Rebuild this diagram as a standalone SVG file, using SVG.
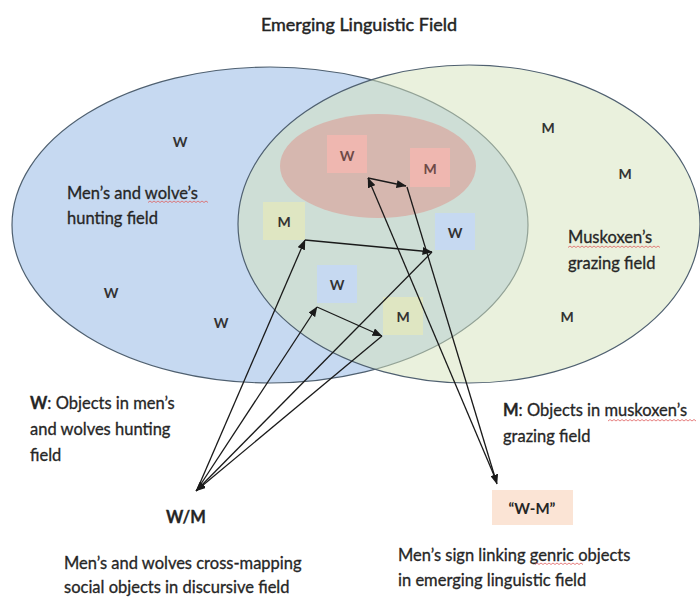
<svg xmlns="http://www.w3.org/2000/svg" width="700" height="597" viewBox="0 0 700 597">
<style>
text{font-family:Lato,"Liberation Sans",sans-serif;fill:#262626}
.t{font-size:16.5px;stroke:#262626;stroke-width:0.3}
.title{font-size:18px;stroke:#1e1e1e;stroke-width:0.45}
.lt{font-size:14px;font-weight:bold;text-anchor:middle;dominant-baseline:central;fill:#333}
.pk{fill:#6e4a47}
.b{font-weight:bold}
.field{stroke:#4f6070;stroke-width:1.2}
.sq{fill:none;stroke:#e06060;stroke-width:0.8}
.con{stroke:#1a1a1a;stroke-width:1.3;fill:none;marker-end:url(#ah)}
</style>
<defs>
<marker id="ah" viewBox="0 0 10 8" refX="9.5" refY="4" markerWidth="10" markerHeight="8" markerUnits="userSpaceOnUse" orient="auto">
<path d="M0 0 L10 4 L0 8 z" fill="#1a1a1a"/>
</marker>
</defs>
<rect width="700" height="597" fill="#ffffff"/>
<text x="359" y="31" class="title" text-anchor="middle">Emerging Linguistic Field</text>

<g id="hunting-field">
<ellipse class="field" cx="270" cy="225" rx="258" ry="158" fill="#c6d9f1"/>
</g>
<g id="grazing-field">
<ellipse class="field" cx="469" cy="224" rx="231" ry="159" fill="#d6e3bc" fill-opacity="0.5"/>
</g>
<g id="linguistic-field">
<ellipse cx="378" cy="166" rx="98" ry="52" fill="#dc9c95" fill-opacity="0.6"/>
</g>

<g id="hunting-label">
<text x="67" y="199" class="t">Men’s and wolve’s</text>
<text x="67" y="224" class="t">hunting field</text>
<path class="sq" d="M148 202.5 l2 -1.5 l2 1.5 l2 -1.5 l2 1.5 l2 -1.5 l2 1.5 l2 -1.5 l2 1.5 l2 -1.5 l2 1.5 l2 -1.5 l2 1.5 l2 -1.5 l2 1.5 l2 -1.5 l2 1.5 l2 -1.5 l2 1.5 l2 -1.5 l2 1.5 l2 -1.5 l2 1.5 l2 -1.5 l2 1.5 l2 -1.5 l2 1.5 l2 -1.5 l2 1.5 l2 -1.5 l2 1.5"/>
</g>
<g id="grazing-label">
<text x="568" y="243" class="t">Muskoxen’s</text>
<text x="568" y="269" class="t">grazing field</text>
<path class="sq" d="M568 247.5 l2 -1.5 l2 1.5 l2 -1.5 l2 1.5 l2 -1.5 l2 1.5 l2 -1.5 l2 1.5 l2 -1.5 l2 1.5 l2 -1.5 l2 1.5 l2 -1.5 l2 1.5 l2 -1.5 l2 1.5 l2 -1.5 l2 1.5 l2 -1.5 l2 1.5 l2 -1.5 l2 1.5 l2 -1.5 l2 1.5 l2 -1.5 l2 1.5 l2 -1.5 l2 1.5 l2 -1.5 l2 1.5 l2 -1.5 l2 1.5 l2 -1.5 l2 1.5 l2 -1.5 l2 1.5 l2 -1.5 l2 1.5 l2 -1.5 l2 1.5 l2 -1.5 l2 1.5 l2 -1.5 l2 1.5 l2 -1.5 l2 1.5"/>
</g>

<g id="w-plain-1"><text x="180" y="141" class="lt">W</text></g>
<g id="w-plain-2"><text x="111" y="292" class="lt">W</text></g>
<g id="w-plain-3"><text x="221" y="322" class="lt">W</text></g>
<g id="m-plain-1"><text x="548" y="127" class="lt">M</text></g>
<g id="m-plain-2"><text x="625" y="173" class="lt">M</text></g>
<g id="m-plain-3"><text x="567" y="316" class="lt">M</text></g>

<g id="w-pink"><rect x="327" y="135" width="40" height="38" fill="#efb7b0"/><text x="347" y="155" class="lt pk">W</text></g>
<g id="m-pink"><rect x="410" y="148" width="40" height="39" fill="#efb7b0"/><text x="430" y="168" class="lt pk">M</text></g>
<g id="m-green-1"><rect x="263" y="202" width="42" height="38" fill="#dfe6c2"/><text x="284" y="221" class="lt">M</text></g>
<g id="w-blue-1"><rect x="435" y="213" width="40" height="37" fill="#c6d9f1"/><text x="455" y="232" class="lt">W</text></g>
<g id="w-blue-2"><rect x="317" y="265" width="40" height="38" fill="#c6d9f1"/><text x="337" y="284" class="lt">W</text></g>
<g id="m-green-2"><rect x="383" y="297" width="40" height="38" fill="#dfe6c2"/><text x="403" y="316" class="lt">M</text></g>

<g id="w-legend">
<text x="30" y="409" class="t"><tspan class="b">W</tspan>: Objects in men’s</text>
<text x="30" y="435" class="t">and wolves hunting</text>
<text x="30" y="461" class="t">field</text>
</g>
<g id="m-legend">
<text x="503" y="416" class="t"><tspan class="b">M</tspan>: Objects in muskoxen’s</text>
<text x="503" y="442" class="t">grazing field</text>
<path class="sq" d="M608 421 l2 -1.5 l2 1.5 l2 -1.5 l2 1.5 l2 -1.5 l2 1.5 l2 -1.5 l2 1.5 l2 -1.5 l2 1.5 l2 -1.5 l2 1.5 l2 -1.5 l2 1.5 l2 -1.5 l2 1.5 l2 -1.5 l2 1.5 l2 -1.5 l2 1.5 l2 -1.5 l2 1.5 l2 -1.5 l2 1.5 l2 -1.5 l2 1.5 l2 -1.5 l2 1.5 l2 -1.5 l2 1.5 l2 -1.5 l2 1.5 l2 -1.5 l2 1.5 l2 -1.5 l2 1.5 l2 -1.5 l2 1.5 l2 -1.5 l2 1.5 l2 -1.5 l2 1.5 l2 -1.5 l2 1.5"/>
</g>

<g id="wm-node">
<text x="186" y="523" class="t b" text-anchor="middle" font-size="15">W/M</text>
<text x="64" y="569" class="t">Men’s and wolves cross-mapping</text>
<text x="64" y="593" class="t">social objects in discursive field</text>
</g>
<g id="wm-sign-node">
<rect x="492" y="490" width="81" height="35" fill="#fbe4d5"/>
<text x="532" y="508" class="b" font-size="15" text-anchor="middle" dominant-baseline="central">“W-M”</text>
<text x="398" y="561" class="t">Men’s sign linking genric objects</text>
<text x="398" y="586" class="t">in emerging linguistic field</text>
<path class="sq" d="M535 564.5 l2 -1.5 l2 1.5 l2 -1.5 l2 1.5 l2 -1.5 l2 1.5 l2 -1.5 l2 1.5 l2 -1.5 l2 1.5 l2 -1.5 l2 1.5 l2 -1.5 l2 1.5 l2 -1.5 l2 1.5 l2 -1.5 l2 1.5 l2 -1.5 l2 1.5 l2 -1.5 l2 1.5 l2 -1.5 l2 1.5"/>
</g>

<g id="connectors">
<path class="con" d="M197 490 L305 240"/>
<path class="con" d="M305 240 L432 252"/>
<path class="con" d="M432 252 L196 491"/>
<path class="con" d="M197 490 L317 307"/>
<path class="con" d="M317 307 L382 336"/>
<path class="con" d="M382 336 L196 491"/>
<path class="con" d="M496 480 L368 178"/>
<path class="con" d="M368 178 L406 186"/>
<path class="con" d="M407 187 L497 484"/>
</g>
</svg>
